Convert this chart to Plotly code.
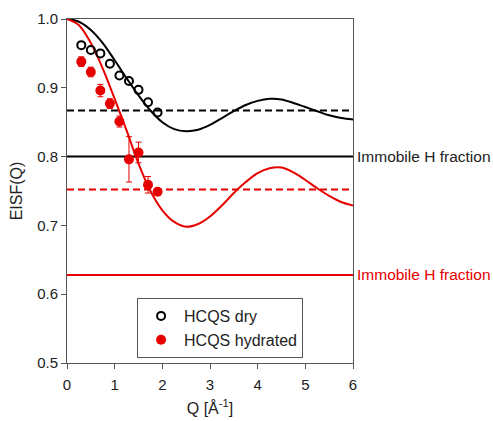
import plotly.graph_objects as go

# Measured data
q_pts = [0.3, 0.5, 0.7, 0.9, 1.1, 1.3, 1.5, 1.7, 1.9]
eisf_dry = [0.962, 0.955, 0.950, 0.935, 0.918, 0.910, 0.897, 0.879, 0.864]
eisf_hyd = [0.938, 0.923, 0.896, 0.877, 0.851, 0.796, 0.806, 0.759, 0.749]
err_hyd = [0.007, 0.007, 0.009, 0.007, 0.008, 0.033, 0.015, 0.012, 0.004]

# Model curves
q_curve = [0, 0.25, 0.5, 0.75, 1.0, 1.25, 1.5, 1.75, 2.0, 2.25, 2.5, 2.75, 3.0,
           3.25, 3.5, 3.75, 4.0, 4.25, 4.5, 4.75, 5.0, 5.25, 5.5, 5.75, 6.0]
fit_dry = [1.0, 0.996, 0.984, 0.965, 0.940, 0.914, 0.889, 0.867, 0.850, 0.840,
           0.837, 0.839, 0.846, 0.856, 0.866, 0.875, 0.881, 0.884, 0.883, 0.878,
           0.872, 0.866, 0.860, 0.856, 0.854]
fit_hyd = [1.0, 0.991, 0.965, 0.928, 0.884, 0.838, 0.790, 0.750, 0.722, 0.705,
           0.698, 0.702, 0.713, 0.729, 0.747, 0.763, 0.776, 0.783, 0.784, 0.777,
           0.766, 0.754, 0.743, 0.734, 0.729]

# Horizontal levels
asym_dry = 0.867
asym_hyd = 0.752
immobile_dry = 0.800
immobile_hyd = 0.628
x_range = [0, 6]

BLACK = "#000000"
RED = "#e60000"
TXT = "#222222"

fig = go.Figure()

def hline(y, color, dash):
    fig.add_trace(go.Scatter(x=x_range, y=[y, y], mode="lines",
                             line=dict(color=color, width=2, dash=dash),
                             showlegend=False, hoverinfo="skip"))

hline(immobile_dry, BLACK, "solid")
hline(immobile_hyd, RED, "solid")
hline(asym_dry, BLACK, "7px,4px")
hline(asym_hyd, RED, "7px,4px")

fig.add_trace(go.Scatter(x=q_curve, y=fit_dry, mode="lines",
                         line=dict(color=BLACK, width=2, shape="spline"), showlegend=False))
fig.add_trace(go.Scatter(x=q_curve, y=fit_hyd, mode="lines",
                         line=dict(color=RED, width=2, shape="spline"), showlegend=False))

dry_marker = dict(symbol="circle-open", size=8, color=BLACK, line=dict(width=2, color=BLACK))
hyd_marker = dict(symbol="circle", size=10, color=RED)

fig.add_trace(go.Scatter(x=q_pts, y=eisf_dry, mode="markers", marker=dry_marker, showlegend=False))
fig.add_trace(go.Scatter(x=q_pts, y=eisf_hyd, mode="markers", marker=hyd_marker, showlegend=False,
                         error_y=dict(type="data", array=err_hyd, color=RED, thickness=1, width=3)))

# legend entries
fig.add_trace(go.Scatter(x=[None], y=[None], mode="markers", name="HCQS dry", marker=dry_marker))
fig.add_trace(go.Scatter(x=[None], y=[None], mode="markers", name="HCQS hydrated", marker=hyd_marker))

label_x = 1 + 139 / 286  # right edge of figure, in paper units
fig.add_annotation(x=label_x, xref="paper", xanchor="right", y=immobile_dry, yref="y",
                   text="Immobile H fraction", showarrow=False, borderpad=0,
                   font=dict(color=TXT, size=15.5))
fig.add_annotation(x=label_x, xref="paper", xanchor="right", y=immobile_hyd, yref="y",
                   text="Immobile H fraction", showarrow=False, borderpad=0,
                   font=dict(color=RED, size=15.5))

axis_common = dict(showline=True, linecolor="#555555", linewidth=1, mirror=True,
                   ticks="outside", ticklen=5, tickcolor="#555555", showgrid=False, zeroline=False,
                   tickfont=dict(size=15, color=TXT), automargin=False)

fig.update_xaxes(range=[0, 6], dtick=1, tickformat="d", ticklabelstandoff=3,
                 title=dict(text="Q [Å<sup>-1</sup>]", font=dict(size=16, color=TXT), standoff=10),
                 **axis_common)
fig.update_yaxes(range=[0.5, 1.0], dtick=0.1, tickformat=".1f",
                 title=dict(text="EISF(Q)", font=dict(size=16, color=TXT), standoff=10),
                 **axis_common)

fig.update_layout(
    width=493, height=421,
    margin=dict(l=67, r=140, t=19, b=58),
    paper_bgcolor="white", plot_bgcolor="white",
    font=dict(family="Liberation Sans, Arial, sans-serif", size=16, color=TXT),
    legend=dict(x=0.245, y=0.189, xanchor="left", yanchor="top",
                bordercolor="#555555", borderwidth=1, bgcolor="white",
                font=dict(size=16), itemwidth=36, tracegroupgap=0),
)

fig.write_html("out.html", config={"displayModeBar": False},
               post_script="document.body.style.margin='0';document.body.style.overflow='hidden';")
